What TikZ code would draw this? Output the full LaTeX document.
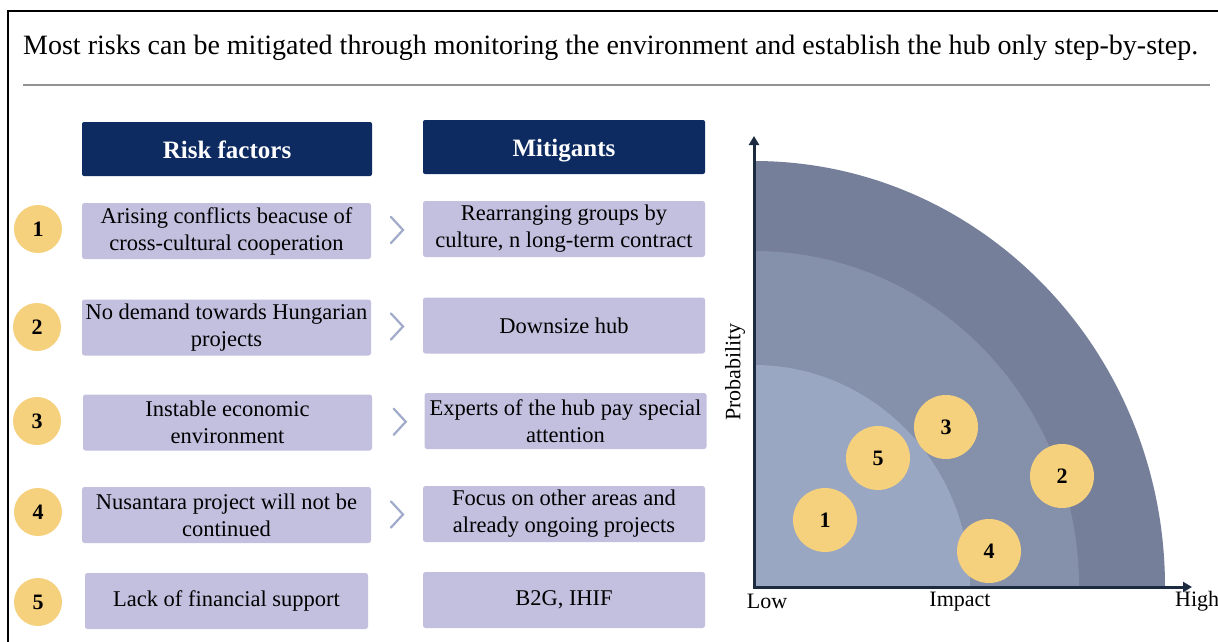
\documentclass[tikz,border=0pt]{standalone}
\usepackage{fontspec}
\setmainfont{Liberation Serif}
\usetikzlibrary{calc,arrows.meta}
\definecolor{navy}{HTML}{0D2B61}
\definecolor{lav}{HTML}{C3BFDF}
\definecolor{goldy}{HTML}{F5D07D}
\definecolor{chevc}{HTML}{A0AACA}
\definecolor{axisc}{HTML}{1C2B40}
\definecolor{ringA}{HTML}{767F99}
\definecolor{ringB}{HTML}{8590AB}
\definecolor{ringC}{HTML}{9AA7C2}
\tikzset{
  boxtxt/.style={font=\fontsize{22.5}{27}\selectfont, align=center, text=black},
  hdr/.style={fill=navy, rounded corners=2pt, text=white, inner sep=0pt,
    text height=24pt, text depth=6pt,
    font=\fontsize{25}{29}\selectfont\bfseries},
  rbox/.style={boxtxt, fill=lav, rounded corners=2.5pt, inner sep=0pt,
    minimum height=56pt},
  numdot/.style={circle, fill=goldy, inner sep=0pt, minimum size=48pt,
    font=\fontsize{22}{26}\selectfont\bfseries},
  bigdot/.style={circle, fill=goldy, inner sep=0pt, minimum size=64pt,
    font=\fontsize{22}{26}\selectfont\bfseries},
  chevron/.style={draw=chevc, line width=2.2pt, line cap=round, line join=miter},
  axisline/.style={draw=axisc, line width=3pt, -{Triangle[length=9pt,width=10pt]}},
  axlbl/.style={font=\fontsize{22}{26}\selectfont, inner sep=0pt},
}
\begin{document}
\begin{tikzpicture}[x=1pt,y=-1pt]
\useasboundingbox[fill=white] (0,0) rectangle (1218,642);

% frame and title
\draw[line width=2pt] (8,650) -- (8,11) -- (1225,11);
\node[anchor=base west, inner sep=0pt, font=\fontsize{28}{32}\selectfont] (title) at (23,55)
  {Most risks can be mitigated through monitoring the environment and establish the hub only step-by-step.};
\draw[draw=gray!85, line width=2pt] (23,85) -- (1210,85);

% column headers
\node[hdr, minimum width=290pt, minimum height=54pt] (hrisk) at (227,149) {Risk factors};
\node[hdr, minimum width=282pt, minimum height=54pt] (hmit) at (564,147) {Mitigants};

% risk factors
\node[rbox, minimum width=289pt] (r1) at (226.5,231) {Arising conflicts beacuse of\\cross-cultural cooperation};
\node[rbox, minimum width=289pt] (r2) at (226.5,327.5) {No demand towards Hungarian\\projects};
\node[rbox, minimum width=289pt] (r3) at (227.5,422.5) {Instable economic\\environment};
\node[rbox, minimum width=289pt] (r4) at (226.5,515) {Nusantara project will not be\\continued};
\node[rbox, minimum width=283pt] (r5) at (226.5,601) {Lack of financial support};

% mitigants
\node[rbox, minimum width=282pt] (m1) at (564,229) {Rearranging groups by\\culture, n long-term contract};
\node[rbox, minimum width=282pt] (m2) at (564,325.5) {Downsize hub};
\node[rbox, minimum width=282pt] (m3) at (565.5,421) {Experts of the hub pay special\\attention};
\node[rbox, minimum width=282pt] (m4) at (564,514) {Focus on other areas and\\already ongoing projects};
\node[rbox, minimum width=282pt] (m5) at (564,600) {B2G, IHIF};

% numbered markers
\node[numdot] (n1) at (38,229) {1};
\node[numdot] (n2) at (37,327) {2};
\node[numdot] (n3) at (37,421) {3};
\node[numdot] (n4) at (38,512) {4};
\node[numdot] (n5) at (38,602) {5};

% chevrons between risk and mitigant
\foreach \i/\dx in {1/0,2/0,3/1.5,4/0}{
  \coordinate (ch\i) at ($(r\i.east)!0.5!(m\i.west)$);
  \draw[chevron] ($(ch\i)+(-6+\dx,-13)$) -- ($(ch\i)+(6+\dx,0)$) -- ($(ch\i)+(-6+\dx,13)$);
}

% risk matrix rings
\coordinate (O) at (754,587);
\fill[ringA] (O) -- ++(411pt,0pt) arc[start angle=0,end angle=90,x radius=411pt,y radius=426pt] -- cycle;
\fill[ringB] (O) -- ++(325pt,0pt) arc[start angle=0,end angle=90,x radius=325pt,y radius=336pt] -- cycle;
\fill[ringC] (O) -- ++(216pt,0pt) arc[start angle=0,end angle=90,x radius=216pt,y radius=222pt] -- cycle;

% axes
\coordinate (ytip) at (754,136);
\coordinate (xtip) at (1192,587);
\draw[axisline] ($(O)+(0,1.5)$) -- (ytip);
\draw[axisline] ($(O)+(-1.5,0)$) -- (xtip);
\node[axlbl] (low) at (767,601) {Low};
\node[axlbl] (imp) at (960,602) {Impact};
\node[axlbl, anchor=west] (high) at (1175,601) {High};
\node[axlbl, rotate=90] (prob) at (735,372) {Probability};

% plotted risks
\node[bigdot] (p1) at (825,520) {1};
\node[bigdot] (p5) at (878,458) {5};
\node[bigdot] (p3) at (946,427) {3};
\node[bigdot] (p2) at (1062,476) {2};
\node[bigdot] (p4) at (989,551) {4};
\end{tikzpicture}
\end{document}
